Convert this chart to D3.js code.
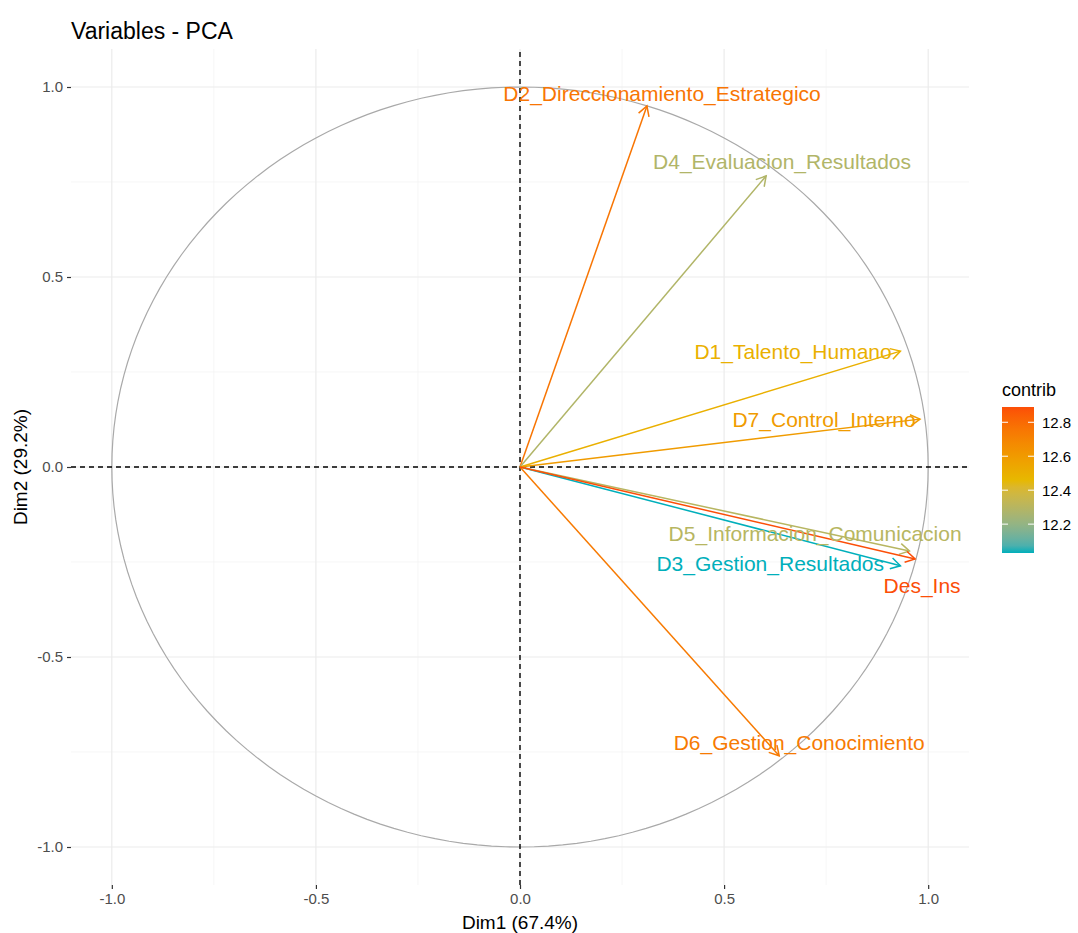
<!DOCTYPE html>
<html><head><meta charset="utf-8">
<script src="https://cdn.jsdelivr.net/npm/d3@7"></script>
<style>body{margin:0;background:#fff;font-family:"Liberation Sans",Arial,sans-serif}</style>
</head><body>
<svg id="chart" width="1078" height="933"></svg>
<script>
const variables = ["D1_Talento_Humano","D2_Direccionamiento_Estrategico","D3_Gestion_Resultados","D4_Evaluacion_Resultados","D5_Informacion_Comunicacion","D6_Gestion_Conocimiento","D7_Control_Interno","Des_Ins"];
const dim1 = [0.932, 0.311, 0.932, 0.603, 0.954, 0.635, 0.980, 0.968];
const dim2 = [0.305, 0.950, -0.260, 0.766, -0.221, -0.760, 0.126, -0.242];
const contrib = [12.50, 12.76, 12.03, 12.28, 12.30, 12.74, 12.60, 12.89];
const labelDim1 = [0.669, 0.348, 0.613, 0.642, 0.723, 0.684, 0.745, 0.985];
const labelDim2 = [0.303, 0.982, -0.253, 0.805, -0.176, -0.724, 0.126, -0.313];
const ticks = [-1.0, -0.5, 0.0, 0.5, 1.0];
const minorTicks = [-0.75, -0.25, 0.25, 0.75];
const legendTicks = [12.2, 12.4, 12.6, 12.8];
const gradientCols = ["#00AFBB", "#E7B800", "#FC4E07"];

const svg = d3.select("#chart");
const x = d3.scaleLinear().domain([-1.1, 1.1]).range([71, 969]);
const y = d3.scaleLinear().domain([-1.1, 1.1]).range([885, 49]);
const cext = d3.extent(contrib);
const color = d3.scaleLinear()
  .domain([cext[0], (cext[0]+cext[1])/2, cext[1]])
  .range(gradientCols).interpolate(d3.interpolateLab);

const g = svg.append("g");
// grid
minorTicks.forEach(t => {
  g.append("line").attr("x1", x(t)).attr("x2", x(t)).attr("y1", y(-1.1)).attr("y2", y(1.1))
    .attr("stroke", "#f2f2f2").attr("stroke-width", 0.7);
  g.append("line").attr("y1", y(t)).attr("y2", y(t)).attr("x1", x(-1.1)).attr("x2", x(1.1))
    .attr("stroke", "#f2f2f2").attr("stroke-width", 0.7);
});
ticks.forEach(t => {
  g.append("line").attr("x1", x(t)).attr("x2", x(t)).attr("y1", y(-1.1)).attr("y2", y(1.1))
    .attr("stroke", "#ebebeb").attr("stroke-width", 1.2);
  g.append("line").attr("y1", y(t)).attr("y2", y(t)).attr("x1", x(-1.1)).attr("x2", x(1.1))
    .attr("stroke", "#ebebeb").attr("stroke-width", 1.2);
});

// circle
const circ = d3.range(0, 361, 2).map(a => [Math.cos(a*Math.PI/180), Math.sin(a*Math.PI/180)]);
g.append("path").attr("d", d3.line().x(d => x(d[0])).y(d => y(d[1]))(circ))
  .attr("fill", "none").attr("stroke", "#a9a9a9").attr("stroke-width", 1.2);

// dashed axes
g.append("line").attr("x1", x(-1.1)).attr("x2", x(1.1)).attr("y1", y(0)).attr("y2", y(0))
  .attr("stroke", "#000").attr("stroke-width", 1.4).attr("stroke-dasharray", "5,4");
g.append("line").attr("x1", x(0)).attr("x2", x(0)).attr("y1", y(-1.1)).attr("y2", y(1.1))
  .attr("stroke", "#000").attr("stroke-width", 1.4).attr("stroke-dasharray", "5,4");

// arrows
variables.forEach((v, i) => {
  const c = color(contrib[i]);
  const x0 = x(0), y0 = y(0), x1 = x(dim1[i]), y1 = y(dim2[i]);
  g.append("line").attr("x1", x0).attr("y1", y0).attr("x2", x1).attr("y2", y1)
    .attr("stroke", c).attr("stroke-width", 1.5);
  const ang = Math.atan2(y1 - y0, x1 - x0);
  const L = 11, a = Math.PI / 6;
  const p1 = [x1 - L*Math.cos(ang - a), y1 - L*Math.sin(ang - a)];
  const p2 = [x1 - L*Math.cos(ang + a), y1 - L*Math.sin(ang + a)];
  g.append("path").attr("d", `M${p1[0]},${p1[1]}L${x1},${y1}L${p2[0]},${p2[1]}`)
    .attr("fill", "none").attr("stroke", c).attr("stroke-width", 1.5);
});
// labels
variables.forEach((v, i) => {
  g.append("text").attr("x", x(labelDim1[i])).attr("y", y(labelDim2[i]))
    .attr("text-anchor", "middle").attr("dominant-baseline", "central")
    .attr("font-size", 21).attr("fill", color(contrib[i])).text(v);
});

// axes
const fmt = d => d3.format(".1f")(d).replace("\u2212", "-");
const xa = svg.append("g").attr("transform", `translate(0,${y(-1.1)})`)
  .call(d3.axisBottom(x).tickValues(ticks).tickFormat(fmt).tickSize(4).tickPadding(4));
const ya = svg.append("g").attr("transform", `translate(${x(-1.1)},0)`)
  .call(d3.axisLeft(y).tickValues(ticks).tickFormat(fmt).tickSize(4).tickPadding(4));
[xa, ya].forEach(a => {
  a.select(".domain").remove();
  a.selectAll(".tick line").attr("stroke", "#333").attr("stroke-width", 1.2);
  a.selectAll(".tick text").attr("fill", "#4d4d4d").attr("font-size", 15)
    .attr("font-family", "Liberation Sans, Arial, sans-serif");
});

svg.append("text").attr("x", x(0)).attr("y", 929).attr("text-anchor", "middle")
  .attr("font-size", 19).attr("fill", "#000").text("Dim1 (67.4%)");
svg.append("text").attr("transform", `translate(27,${y(0)}) rotate(-90)`).attr("text-anchor", "middle")
  .attr("font-size", 19).attr("fill", "#000").text("Dim2 (29.2%)");
svg.append("text").attr("x", 71).attr("y", 39).attr("font-size", 23).attr("fill", "#000").text("Variables - PCA");

// legend
const lg = svg.append("g");
const ly = d3.scaleLinear().domain(cext).range([553, 407]);
const defs = svg.append("defs");
const grad = defs.append("linearGradient").attr("id", "cg").attr("x1", 0).attr("x2", 0).attr("y1", 1).attr("y2", 0);
d3.range(0, 1.0001, 0.05).forEach(t => {
  grad.append("stop").attr("offset", t).attr("stop-color", color(cext[0] + t*(cext[1]-cext[0])));
});
lg.append("rect").attr("x", 1002).attr("y", ly(cext[1])).attr("width", 32)
  .attr("height", ly(cext[0]) - ly(cext[1])).attr("fill", "url(#cg)");
legendTicks.forEach(t => {
  lg.append("line").attr("x1", 1002).attr("x2", 1008).attr("y1", ly(t)).attr("y2", ly(t)).attr("stroke", "#fff").attr("stroke-width", 1);
  lg.append("line").attr("x1", 1028).attr("x2", 1034).attr("y1", ly(t)).attr("y2", ly(t)).attr("stroke", "#fff").attr("stroke-width", 1);
  lg.append("text").attr("x", 1042).attr("y", ly(t)).attr("dominant-baseline", "central")
    .attr("font-size", 15).attr("fill", "#000").text(t.toFixed(1));
});
lg.append("text").attr("x", 1002).attr("y", 396).attr("font-size", 18).attr("fill", "#000").text("contrib");
</script>
</body></html>
